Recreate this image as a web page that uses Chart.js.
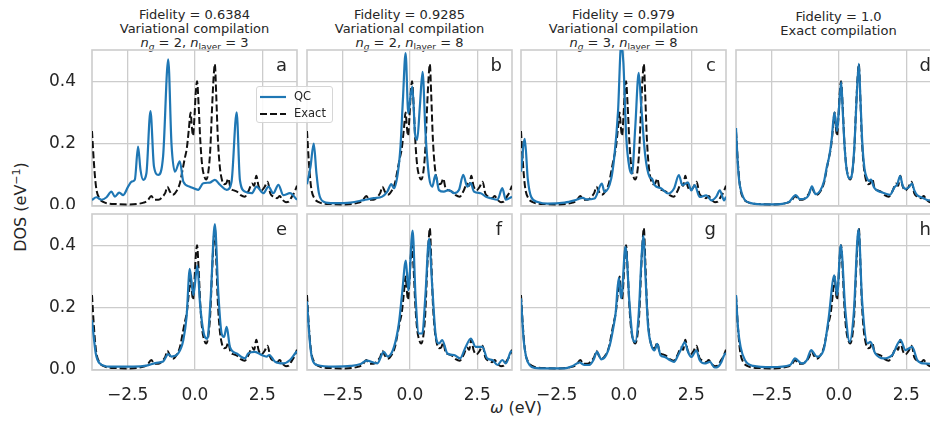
<!DOCTYPE html>
<html>
<head>
<meta charset="utf-8">
<script src="https://cdn.jsdelivr.net/npm/chart.js@4.4.0/dist/chart.umd.min.js"></script>
<style>
  body { margin: 0; width: 930px; height: 427px; overflow: hidden; background: #fff;
         font-family: "DejaVu Sans", sans-serif; color: #262626; position: relative; }
  canvas { position: absolute; }
  .title { position: absolute; width: 205px; text-align: center; font-size: 13px; line-height: 14px; white-space: nowrap; }
  .title sub { font-size: 9px; line-height: 0; vertical-align: -3px; }
  .letter { position: absolute; width: 195px; text-align: right; font-size: 18px; line-height: 18px; }
  #ylabel { position: absolute; left: 20px; top: 207px; font-size: 16px; white-space: nowrap;
            transform: translate(-50%, -50%) rotate(-90deg); }
  #ylabel sup { font-size: 11px; }
  #xlabel { position: absolute; left: 516px; top: 407px; font-size: 16px; white-space: nowrap;
            transform: translate(-50%, -50%); }
  #legend { position: absolute; left: 256px; top: 86px; width: 75px; height: 35px; z-index: 5;
            border: 1px solid #d6d6d6; border-radius: 3px; background: rgba(255,255,255,0.85);
            font-size: 11.5px; }
  #legend div { position: absolute; left: 3px; height: 14px; line-height: 14px; }
  #legend svg { vertical-align: middle; margin-right: 8px; }
</style>
</head>
<body>
<div id="ylabel">DOS (eV<sup>−1</sup>)</div>
<div id="xlabel"><i>ω</i> (eV)</div>
<div id="legend">
  <div style="top:2px"><svg width="26" height="4"><line x1="0" y1="2" x2="26" y2="2" stroke="#1f77b4" stroke-width="2.2"/></svg>QC</div>
  <div style="top:19px"><svg width="26" height="4"><line x1="0" y1="2" x2="26" y2="2" stroke="#111" stroke-width="2" stroke-dasharray="7 3"/></svg>Exact</div>
</div>
<script>
// exact DOS (same in every panel)
var omegaExact = [-3.82,-3.75,-3.70,-3.65,-3.55,-3.40,-3.20,-2.90,-2.50,-2.10,-1.90,-1.75,-1.62,-1.50,-1.35,-1.20,-1.10,-1.02,-0.92,-0.82,-0.68,-0.55,-0.45,-0.37,-0.30,-0.22,-0.16,-0.11,-0.07,-0.02,0.03,0.08,0.14,0.20,0.27,0.35,0.42,0.50,0.57,0.64,0.70,0.74,0.79,0.85,0.92,1.00,1.08,1.16,1.24,1.32,1.45,1.58,1.70,1.85,2.00,2.12,2.20,2.28,2.36,2.47,2.58,2.70,2.80,2.92,3.05,3.15,3.25,3.38,3.48,3.60,3.70,3.79];
var dosExact = [0.24,0.14,0.085,0.05,0.025,0.013,0.008,0.006,0.005,0.007,0.011,0.018,0.032,0.02,0.02,0.03,0.042,0.062,0.045,0.036,0.048,0.075,0.12,0.155,0.185,0.25,0.30,0.25,0.225,0.28,0.36,0.40,0.32,0.21,0.13,0.095,0.085,0.11,0.18,0.32,0.42,0.455,0.36,0.22,0.13,0.085,0.07,0.072,0.088,0.058,0.05,0.045,0.035,0.03,0.05,0.072,0.065,0.097,0.065,0.05,0.06,0.078,0.04,0.03,0.025,0.032,0.02,0.012,0.014,0.03,0.045,0.065];

// QC DOS, one per panel
var omegaQcA = [-3.82,-3.66,-3.47,-3.28,-3.10,-2.97,-2.81,-2.66,-2.48,-2.35,-2.23,-2.11,-2.02,-1.92,-1.80,-1.65,-1.52,-1.36,-1.18,-0.99,-0.87,-0.74,-0.56,-0.43,-0.19,0.12,0.31,0.56,0.74,0.93,1.18,1.36,1.55,1.67,1.86,2.11,2.29,2.54,2.73,2.91,3.10,3.28,3.53,3.79];
var dosQcA = [0.019,0.028,0.02,0.028,0.046,0.03,0.043,0.035,0.062,0.078,0.084,0.19,0.116,0.084,0.105,0.304,0.127,0.1,0.16,0.47,0.2,0.11,0.143,0.078,0.062,0.052,0.073,0.075,0.084,0.068,0.052,0.078,0.3,0.084,0.046,0.041,0.062,0.041,0.062,0.041,0.068,0.035,0.041,0.02];

var omegaQcB = [-3.82,-3.69,-3.57,-3.47,-3.38,-3.20,-2.83,-2.20,-1.71,-1.34,-1.03,-0.84,-0.69,-0.59,-0.45,-0.35,-0.26,-0.16,-0.06,0.02,0.09,0.19,0.27,0.37,0.47,0.58,0.71,0.83,0.95,1.08,1.26,1.45,1.64,1.82,1.98,2.13,2.26,2.38,2.63,2.81,3.00,3.25,3.43,3.56,3.79];
var dosQcB = [0.07,0.126,0.2,0.105,0.042,0.014,0.009,0.011,0.019,0.025,0.03,0.046,0.07,0.057,0.105,0.19,0.34,0.49,0.297,0.35,0.383,0.233,0.212,0.32,0.43,0.233,0.094,0.062,0.1,0.051,0.046,0.051,0.041,0.051,0.1,0.062,0.073,0.046,0.041,0.03,0.025,0.02,0.057,0.02,0.03];

var omegaQcC = [-3.82,-3.68,-3.57,-3.44,-3.20,-2.83,-2.20,-1.83,-1.52,-1.40,-1.09,-0.82,-0.72,-0.47,-0.35,-0.22,-0.10,-0.02,0.09,0.21,0.30,0.42,0.55,0.64,0.79,0.95,1.04,1.14,1.39,1.64,1.86,2.04,2.17,2.38,2.50,2.63,2.81,3.06,3.25,3.43,3.56,3.72,3.79];
var dosQcC = [0.11,0.215,0.088,0.029,0.013,0.0075,0.011,0.018,0.026,0.021,0.024,0.072,0.045,0.088,0.163,0.3,0.52,0.46,0.217,0.12,0.104,0.25,0.427,0.325,0.163,0.094,0.088,0.067,0.056,0.04,0.056,0.099,0.067,0.075,0.05,0.067,0.029,0.034,0.018,0.03,0.05,0.018,0.03];

var omegaQcD = [-3.82,-3.75,-3.70,-3.62,-3.50,-3.30,-3.00,-2.50,-2.10,-1.85,-1.60,-1.45,-1.25,-1.12,-1.00,-0.87,-0.70,-0.55,-0.45,-0.35,-0.26,-0.17,-0.07,0.00,0.085,0.15,0.22,0.30,0.40,0.50,0.58,0.66,0.74,0.80,0.87,0.95,1.04,1.12,1.19,1.30,1.41,1.55,1.72,1.90,2.06,2.17,2.27,2.37,2.47,2.60,2.71,2.80,2.90,3.05,3.14,3.25,3.40,3.55,3.70,3.79];
var dosQcD = [0.25,0.13,0.08,0.045,0.02,0.01,0.006,0.005,0.007,0.013,0.035,0.022,0.024,0.035,0.063,0.038,0.048,0.08,0.125,0.163,0.22,0.30,0.24,0.31,0.397,0.29,0.18,0.11,0.088,0.11,0.2,0.35,0.456,0.34,0.2,0.12,0.09,0.08,0.085,0.06,0.05,0.045,0.04,0.036,0.06,0.07,0.096,0.065,0.055,0.06,0.072,0.05,0.035,0.028,0.025,0.02,0.018,0.02,0.035,0.05];

var omegaQcE = [-3.82,-3.68,-3.53,-3.16,-2.29,-1.80,-1.43,-1.18,-0.99,-0.87,-0.62,-0.43,-0.31,-0.19,-0.06,0.09,0.19,0.33,0.46,0.58,0.74,0.87,0.99,1.08,1.18,1.30,1.55,1.86,1.98,2.23,2.48,2.66,2.76,2.97,3.28,3.53,3.72,3.79];
var dosQcE = [0.16,0.053,0.021,0.011,0.011,0.014,0.023,0.027,0.051,0.043,0.053,0.096,0.17,0.324,0.24,0.335,0.213,0.117,0.1,0.223,0.468,0.245,0.117,0.106,0.138,0.074,0.053,0.037,0.053,0.058,0.048,0.043,0.048,0.027,0.021,0.032,0.053,0.06];

var omegaQcF = [-3.82,-3.72,-3.63,-3.44,-2.83,-2.20,-1.83,-1.61,-1.21,-0.97,-0.82,-0.59,-0.41,-0.29,-0.15,-0.06,0.10,0.21,0.33,0.46,0.58,0.71,0.83,0.95,1.08,1.20,1.39,1.64,1.86,2.07,2.26,2.44,2.69,2.87,3.06,3.25,3.43,3.56,3.74,3.79];
var dosQcF = [0.22,0.096,0.037,0.016,0.011,0.013,0.019,0.03,0.021,0.058,0.043,0.074,0.149,0.245,0.351,0.255,0.447,0.234,0.117,0.117,0.245,0.42,0.266,0.117,0.085,0.096,0.053,0.048,0.037,0.074,0.101,0.074,0.074,0.037,0.032,0.016,0.032,0.021,0.058,0.06];

var omegaQcG = [-3.82,-3.72,-3.63,-3.50,-3.32,-2.83,-2.20,-1.90,-1.65,-1.46,-1.28,-1.13,-1.00,-0.84,-0.66,-0.51,-0.38,-0.31,-0.19,-0.10,0.06,0.21,0.33,0.42,0.55,0.64,0.72,0.81,0.89,1.02,1.14,1.24,1.36,1.51,1.70,1.86,2.01,2.13,2.26,2.38,2.50,2.69,2.81,3.00,3.19,3.37,3.50,3.62,3.72,3.79];
var dosQcG = [0.23,0.095,0.042,0.016,0.007,0.005,0.005,0.013,0.024,0.016,0.016,0.032,0.058,0.034,0.047,0.084,0.142,0.18,0.295,0.23,0.395,0.21,0.1,0.09,0.18,0.337,0.43,0.284,0.147,0.079,0.063,0.084,0.047,0.042,0.032,0.026,0.047,0.068,0.089,0.058,0.042,0.063,0.032,0.021,0.026,0.008,0.011,0.026,0.047,0.055];

var omegaQcH = [-3.82,-3.74,-3.65,-3.49,-3.18,-2.50,-1.81,-1.63,-1.38,-1.19,-1.03,-0.82,-0.57,-0.39,-0.17,-0.07,0.07,0.24,0.40,0.55,0.73,0.86,1.07,1.17,1.35,1.66,1.98,2.29,2.47,2.72,2.91,3.16,3.40,3.60,3.79];
var dosQcH = [0.24,0.13,0.074,0.032,0.013,0.009,0.016,0.037,0.021,0.032,0.064,0.043,0.064,0.16,0.303,0.24,0.4,0.19,0.09,0.18,0.452,0.223,0.085,0.09,0.053,0.037,0.048,0.096,0.064,0.074,0.032,0.021,0.02,0.03,0.05];

var xTicks = [-2.5, 0, 2.5];
var yTicks = [0, 0.2, 0.4];
var fidelities = ["0.6384", "0.9285", "0.979", "1.0"];
var compilations = ["Variational compilation", "Variational compilation", "Variational compilation", "Exact compilation"];
var nG = [2, 2, 3, null];
var nLayer = [3, 8, 8, null];
var letters = ["a", "b", "c", "d", "e", "f", "g", "h"];

var qcOmega = [omegaQcA, omegaQcB, omegaQcC, omegaQcD, omegaQcE, omegaQcF, omegaQcG, omegaQcH];
var qcDos = [dosQcA, dosQcB, dosQcC, dosQcD, dosQcE, dosQcF, dosQcG, dosQcH];

var colLeft = [92, 307, 521, 736];
var rowTop = [50, 214];
var plotW = 205, plotH = 156, pad = 3;

function fmt(v) {
  return v.toFixed(1).replace("-", "\u2212");
}

// grey frame around each axes
var framePlugin = {
  id: "frame",
  beforeDatasetsDraw: function (chart) {
    var a = chart.chartArea, c = chart.ctx;
    c.save();
    c.strokeStyle = "#cccccc";
    c.lineWidth = 1.6;
    c.strokeRect(a.left, a.top, a.right - a.left, a.bottom - a.top);
    c.restore();
  }
};

function noPad(s) {
  s.paddingTop = 0; s.paddingBottom = 0; s.paddingLeft = 0; s.paddingRight = 0;
}

// titles on top row
for (var t = 0; t < 4; t++) {
  var d = document.createElement("div");
  d.className = "title";
  d.style.left = colLeft[t] + "px";
  var html = "Fidelity = " + fidelities[t] + "<br>" + compilations[t];
  if (nG[t] !== null) {
    html += "<br><i>n</i><sub><i>g</i></sub> = " + nG[t] + ", <i>n</i><sub>layer</sub> = " + nLayer[t];
    d.style.top = "8px";
  } else {
    d.style.top = "10px";
  }
  d.innerHTML = html;
  document.body.appendChild(d);
}

for (var i = 0; i < 8; i++) {
  (function (i) {
    var col = i % 4, row = Math.floor(i / 4);
    var padL = col === 0 ? 80 : pad;
    var padB = row === 1 ? 44 : pad;
    var cv = document.createElement("canvas");
    cv.width = padL + plotW + pad;
    cv.height = pad + plotH + padB;
    cv.style.left = (colLeft[col] - padL) + "px";
    cv.style.top = (rowTop[row] - pad) + "px";
    document.body.appendChild(cv);

    var lab = document.createElement("div");
    lab.className = "letter";
    lab.textContent = letters[i];
    lab.style.left = colLeft[col] + "px";
    lab.style.top = (rowTop[row] + 6) + "px";
    document.body.appendChild(lab);

    var qcPts = qcOmega[i].map(function (x, k) { return { x: x, y: qcDos[i][k] }; });
    var exPts = omegaExact.map(function (x, k) { return { x: x, y: dosExact[k] }; });

    new Chart(cv, {
      type: "line",
      plugins: [framePlugin],
      data: {
        datasets: [
          { label: "QC", data: qcPts, borderColor: "#1f77b4", borderWidth: 2.2, clip: 0 },
          { label: "Exact", data: exPts, borderColor: "#111111", borderWidth: 2, borderDash: [7, 3], clip: 0 }
        ]
      },
      options: {
        responsive: false,
        animation: false,
        devicePixelRatio: 1,
        layout: { padding: { top: pad, right: pad, left: 0, bottom: 0 } },
        elements: {
          point: { radius: 0 },
          line: { cubicInterpolationMode: "monotone", fill: false }
        },
        plugins: { legend: { display: false }, tooltip: { enabled: false } },
        scales: {
          x: {
            type: "linear", min: -3.82, max: 3.79,
            afterBuildTicks: function (s) { s.ticks = xTicks.map(function (v) { return { value: v }; }); },
            afterFit: function (s) { s.height = padB; noPad(s); },
            grid: { color: "#cccccc", lineWidth: 1.3, drawTicks: false },
            border: { display: false },
            ticks: {
              display: row === 1, padding: 15, color: "#262626", maxRotation: 0,
              font: { family: "DejaVu Sans", size: 17 },
              callback: function (v) { return fmt(v); }
            }
          },
          y: {
            type: "linear", min: 0, max: 0.5,
            afterBuildTicks: function (s) { s.ticks = yTicks.map(function (v) { return { value: v }; }); },
            afterFit: function (s) { s.width = padL; noPad(s); },
            grid: { color: "#cccccc", lineWidth: 1.3, drawTicks: false },
            border: { display: false },
            ticks: {
              display: col === 0, padding: 16, color: "#262626",
              font: { family: "DejaVu Sans", size: 17 },
              callback: function (v) { return fmt(v); }
            }
          }
        }
      }
    });
  })(i);
}
</script>
</body>
</html>
